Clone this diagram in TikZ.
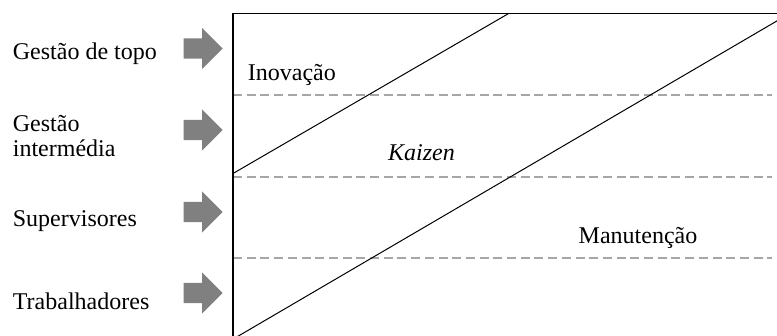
\documentclass[tikz,border=0pt]{standalone}
\usepackage{fontspec}
\setmainfont{Liberation Serif}
\usetikzlibrary{shapes.arrows}
\definecolor{arrowgray}{HTML}{808080}
\definecolor{dashgray}{HTML}{A6A6A6}
\begin{document}
\begin{tikzpicture}[x=1pt,y=-1pt,
  lbl/.style={inner sep=0pt,font=\fontsize{24}{25}\selectfont,align=left},
  levelarrow/.style={single arrow,fill=arrowgray,draw=none,inner xsep=0pt,inner ysep=10pt,
     minimum height=39pt,single arrow head extend=10.5pt,single arrow head indent=0pt,anchor=tip},
  frame/.style={line width=1.3pt,black},
  diag/.style={line width=1pt,black},
  level/.style={line width=2pt,dashgray,dash pattern=on 9pt off 4.7pt}]
\useasboundingbox (0,0) rectangle (777,336);
\clip (0,0) rectangle (777,336);
% labels
\node[lbl,anchor=base west] (l1) at (12.7,60) {Gestão de topo};
\node[lbl,anchor=base west] (l2) at (12.7,156.7) {Gestão\\intermédia};
\node[lbl,anchor=base west] (l3) at (12.7,226.7) {Supervisores};
\node[lbl,anchor=base west] (l4) at (12.7,309.3) {Trabalhadores};
% arrows
\node[levelarrow] (a1) at (223,48.5) {};
\node[levelarrow] (a2) at (223,130) {};
\node[levelarrow] (a3) at (223,212) {};
\node[levelarrow] (a4) at (223,293) {};
% coordinates
\coordinate (tl) at (233,13.3);
\coordinate (tr) at (800,13.3);
\coordinate (bl) at (233,345);
\coordinate (d1a) at (233,173.5);
\coordinate (d1b) at (509,13.3);
\coordinate (d2a) at (235,338);
\coordinate (d2b) at (790,13.3);
% dashed levels
\draw[level] (233,95) -- (772,95);
\draw[level] (233,176.7) -- (772,176.7);
\draw[level] (233,257.7) -- (772,257.7);
% frame
\draw[frame] (tr) -- (tl) -- (bl);
\draw[diag] (d1a) -- (d1b);
\draw[diag] (d2a) -- (d2b);
% area labels
\node[lbl,anchor=base west] (ino) at (247.7,81) {Inovação};
\node[lbl,anchor=base] (kai) at (421.5,160.7) {\itshape Kaizen};
\node[lbl,anchor=base] (man) at (638,244) {Manutenção};
\end{tikzpicture}
\end{document}
